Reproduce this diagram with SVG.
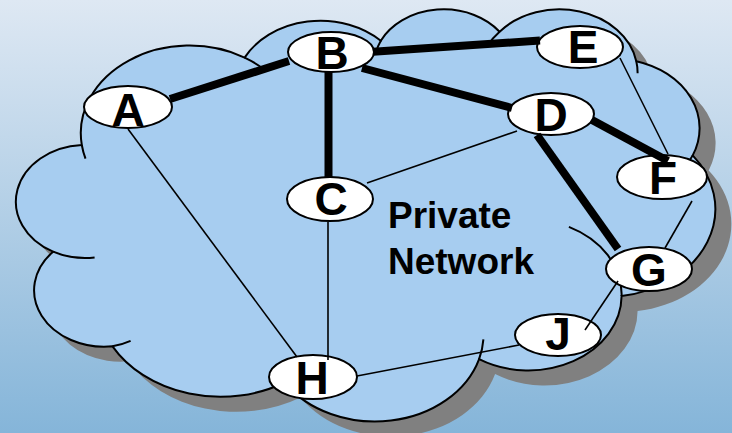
<svg xmlns="http://www.w3.org/2000/svg" width="732" height="433" viewBox="0 0 732 433">
  <defs>
    <linearGradient id="bg" x1="0" y1="0" x2="0" y2="1">
      <stop offset="0" stop-color="#dee8f3"/>
      <stop offset="1" stop-color="#85b5d9"/>
    </linearGradient>
    <path id="cloudOutline" d="M 81.8 145.0 A 108.8 87.6 0 0 1 244.6 57.6 A 85.9 69.3 0 0 1 380.8 40.7 A 70.3 56.7 0 0 1 499.6 31.7 A 78.2 62.9 0 0 1 636.3 61.2 A 85.9 69.4 0 0 1 692.7 155.4 A 109.2 87.9 0 0 1 621.6 296.0 A 93.2 75.0 0 0 1 479.1 359.1 A 108.8 87.9 0 0 1 284.5 382.5 A 124.4 100.5 0 0 1 112.5 346.3 A 70.2 56.4 0 0 1 53.1 251.7 A 70.0 56.7 0 0 1 81.8 145.0 Z"/>
  </defs>
  <style>
    .node ellipse { fill: #ffffff; stroke: #000000; stroke-width: 2; }
    .node text { font-family: "Liberation Sans", Arial, sans-serif; font-weight: bold; font-size: 46px; fill: #000000; text-anchor: middle; }
    .thick { stroke: #000000; stroke-width: 8; fill: none; }
    .thin { stroke: #000000; stroke-width: 1.6; fill: none; }
    .label { font-family: "Liberation Sans", Arial, sans-serif; font-weight: bold; font-size: 37px; fill: #000000; }
  </style>

  <!-- backdrop -->
  <rect x="0" y="0" width="732" height="433" fill="url(#bg)"/>

  <!-- cloud: drop shadow, body, inner bump strokes -->
  <g id="cloud">
    <use href="#cloudOutline" transform="translate(16,15)" fill="#808080"/>
    <use href="#cloudOutline" fill="#a7cdf0" stroke="#000000" stroke-width="2"/>
    <path fill="none" stroke="#000000" stroke-width="2" d="M 94.6 257.6 A 70 56.7 0 0 1 53.1 251.7 M 130.6 340.8 A 70.2 56.4 0 0 1 112.5 346.3 M 284.5 380.8 A 108.8 87.9 0 0 1 273.8 365.9 M 483.4 339.4 A 108.8 87.9 0 0 1 479.1 359.1 M 568.9 226.9 A 93.2 75.0 0 0 1 621.6 296.0 M 692.7 155.4 A 85.9 69.4 0 0 1 669.3 181 M 636.3 61.2 A 78.2 62.9 0 0 1 637.6 73.2 M 487.5 45.7 A 78.2 62.9 0 0 1 499.6 31.7 M 375.7 53.0 A 70.3 56.7 0 0 1 380.8 40.7 M 244.6 57.6 A 108.8 87.6 0 0 1 265.6 70.5 M 85.5 158.6 A 108.8 87.6 0 0 1 81.8 145.0"/>
  </g>

  <!-- nodes -->
  <g id="node-A" class="node"><ellipse cx="128" cy="107" rx="44" ry="21"/><text x="128" y="126">A</text></g>
  <g id="node-B" class="node"><ellipse cx="331" cy="52" rx="43" ry="20"/><text x="332" y="69">B</text></g>
  <g id="node-C" class="node"><ellipse cx="330" cy="199" rx="43" ry="22"/><text x="331" y="215">C</text></g>
  <g id="node-D" class="node"><ellipse cx="551" cy="114" rx="43" ry="21"/><text x="551" y="131">D</text></g>
  <g id="node-E" class="node"><ellipse cx="580" cy="47" rx="43" ry="21"/><text x="583" y="63">E</text></g>
  <g id="node-F" class="node"><ellipse cx="662" cy="177" rx="45" ry="22"/><text x="663" y="194">F</text></g>
  <g id="node-G" class="node"><ellipse cx="649" cy="269" rx="43" ry="22"/><text x="649" y="286">G</text></g>
  <g id="node-H" class="node"><ellipse cx="313" cy="377" rx="44" ry="22"/><text x="312" y="394">H</text></g>
  <g id="node-J" class="node"><ellipse cx="558" cy="335" rx="43" ry="21"/><text x="558" y="350">J</text></g>

  <!-- links -->
  <g id="connectors">
    <line class="thick" x1="170" y1="99" x2="289" y2="61"/>
    <line class="thick" x1="373" y1="51.7" x2="540" y2="40.5"/>
    <line class="thick" x1="362" y1="68" x2="512" y2="108"/>
    <line class="thick" x1="328.5" y1="71" x2="328.5" y2="178"/>
    <line class="thick" x1="592" y1="120" x2="668" y2="161"/>
    <line class="thick" x1="537" y1="135" x2="618" y2="249"/>
    <line class="thin" x1="128" y1="129" x2="297" y2="357"/>
    <line class="thin" x1="328" y1="222" x2="328" y2="360"/>
    <line class="thin" x1="367" y1="183" x2="517" y2="131"/>
    <line class="thin" x1="620" y1="58" x2="668" y2="154"/>
    <line class="thin" x1="692" y1="201" x2="665" y2="248"/>
    <line class="thin" x1="618" y1="281" x2="585" y2="330"/>
    <line class="thin" x1="357" y1="376" x2="519" y2="345"/>
  </g>

  <text class="label" x="388" y="228">Private</text>
  <text class="label" x="388" y="274">Network</text>
</svg>
